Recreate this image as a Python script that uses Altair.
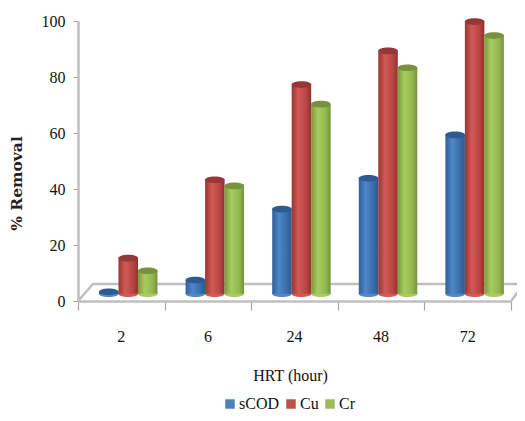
import altair as alt
import pandas as pd

hrt = ["2", "6", "24", "48", "72"]
series = ["sCOD", "Cu", "Cr"]
scod = [1.5, 5.7, 31, 42, 57.5]
cu = [13.5, 41.5, 75.5, 87.5, 98]
cr = [9, 39.3, 68.5, 81.5, 93]
legend_colors = ["#4f81bd", "#c0504d", "#9bbb59"]
body_stops = [
    ["#2f5f98", "#4f87c8", "#3a6ca8", "#2b5a92"],
    ["#9a3431", "#d05a57", "#b84542", "#8f302d"],
    ["#7a9a3c", "#a8cc60", "#94b650", "#74933a"],
]
top_colors = ["#2d5a90", "#963735", "#76923c"]
TOP_BASE = 1.8
BOTTOM_BASE = 2.6
GROUP_SHIFT = 0.08
BAR_W = 0.225
FONT = "Liberation Serif"
GRAY = "#bfbfbf"

rows = []
for j, (s, vals) in enumerate(zip(series, [scod, cu, cr])):
    for i, (h, v) in enumerate(zip(hrt, vals)):
        c = i + 0.5 + GROUP_SHIFT + (j - 1) * BAR_W
        rows.append(dict(hrt=h, series=s, value=v, xc=c, x0=c - BAR_W / 2, x1=c + BAR_W / 2,
                         top=v + TOP_BASE, base=BOTTOM_BASE))
df = pd.DataFrame(rows)

xs = alt.Scale(domain=[0, 5], nice=False, zero=False)
ys = alt.Scale(domain=[0, 100], nice=False)
X = alt.X("x:Q", scale=xs,
          axis=alt.Axis(values=[0, 1, 2, 3, 4, 5], labels=False, grid=False, tickSize=9, tickColor="#a6a6a6",
                        domainColor=GRAY, domainWidth=2.5, tickWidth=1.2,
                        title="HRT (hour)", titleFont=FONT, titleFontSize=16, titleFontWeight="normal",
                        titleColor="#111111", titlePadding=57, titleX=212))
Y = alt.Y("y:Q", scale=ys,
          axis=alt.Axis(values=[0, 20, 40, 60, 80, 100], grid=False, tickSize=5, tickColor="#a6a6a6",
                        domainColor=GRAY, domainWidth=2.5, labelFont=FONT, labelFontSize=16, labelColor="#111111",
                        labelPadding=8, title="% Removal", titleFont="DejaVu Serif", titleFontSize=15.5, titleFontWeight="bold",
                        titleColor="#222222", titlePadding=17, titleY=162))

floor = pd.DataFrame({
    "x": [0, 0.173, 5.15, 5.0],
    "y": [0, 6.1, 6.1, 0],
    "o": [0, 1, 2, 3],
})
floor_layer = alt.Chart(floor).mark_line(color=GRAY, strokeWidth=2.5, clip=False).encode(
    x=X, y=Y, order="o:Q")

ELLIPSE = "M-1,0A1,0.34 0 1,1 1,0A1,0.34 0 1,1 -1,0Z"
SIZE = 390

layers = [floor_layer]
for j, s in enumerate(series):
    sub = df[df.series == s]
    g = alt.Gradient(gradient="linear", x1=0, x2=1, y1=0, y2=0, stops=[
        alt.GradientStop(offset=0, color=body_stops[j][0]),
        alt.GradientStop(offset=0.35, color=body_stops[j][1]),
        alt.GradientStop(offset=0.75, color=body_stops[j][2]),
        alt.GradientStop(offset=1, color=body_stops[j][3]),
    ])
    base_e = alt.Chart(sub).mark_point(shape=ELLIPSE, size=SIZE, filled=True, opacity=1, color=body_stops[j][1], clip=False).encode(
        x=alt.X("xc:Q", scale=xs), y=alt.Y("base:Q", scale=ys))
    body = alt.Chart(sub).mark_bar(color=g, clip=False).encode(
        x=alt.X("x0:Q", scale=xs), x2="x1:Q",
        y=alt.Y("top:Q", scale=ys), y2="base:Q")
    top_e = alt.Chart(sub).mark_point(shape=ELLIPSE, size=SIZE, filled=True, opacity=1, color=top_colors[j], clip=False).encode(
        x=alt.X("xc:Q", scale=xs), y=alt.Y("top:Q", scale=ys))
    layers += [base_e, body, top_e]

labels = pd.DataFrame({"x": [i + 0.5 for i in range(5)], "y": [-12.9] * 5, "t": hrt})
label_layer = alt.Chart(labels).mark_text(font=FONT, fontSize=16, color="#111111", clip=False).encode(
    x=alt.X("x:Q", scale=xs), y=alt.Y("y:Q", scale=ys), text="t:N")
layers.append(label_layer)

legend_layer = alt.Chart(df).mark_point(filled=True, opacity=0, size=1).encode(
    x=alt.X("xc:Q", scale=xs), y=alt.Y("base:Q", scale=ys),
    color=alt.Color("series:N", scale=alt.Scale(domain=series, range=legend_colors),
                    legend=alt.Legend(orient="none", legendX=144, legendY=375, direction="horizontal", title=None,
                                      symbolType="square", symbolSize=90, symbolOpacity=1, labelFont=FONT,
                                      labelFontSize=16, labelColor="#111111", columnPadding=3, labelOffset=1,
                                      symbolStrokeWidth=0)))
layers.append(legend_layer)

chart = alt.layer(*layers).properties(
    width=433, height=280,
    autosize=alt.AutoSizeParams(type="none"),
    padding={"left": 70, "top": 13, "right": 6, "bottom": 112},
).configure_view(stroke=None)

chart.save("out.html", embed_options={"renderer": "svg", "actions": False})
